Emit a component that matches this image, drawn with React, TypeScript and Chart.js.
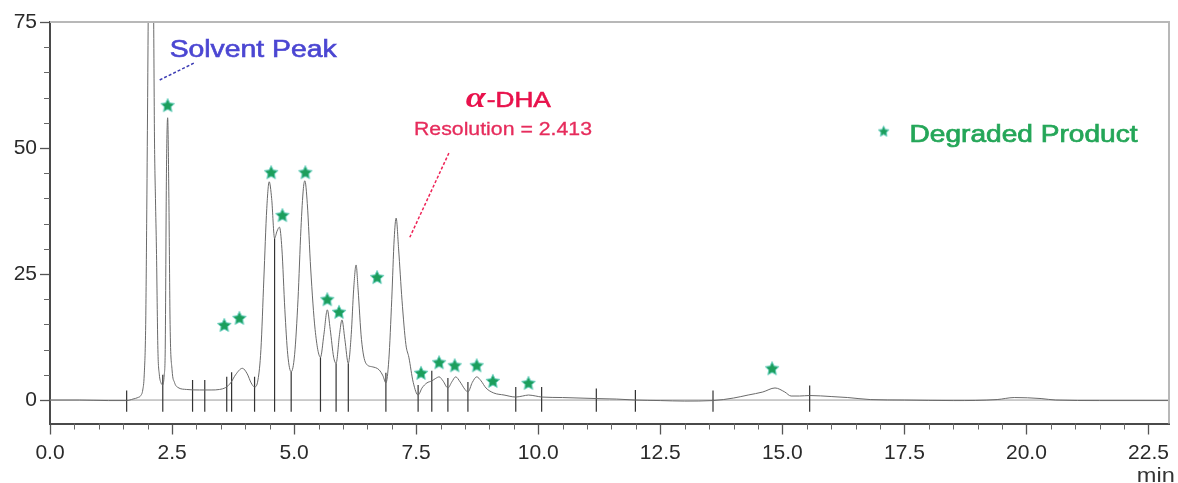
import React, { useEffect, useRef } from 'react';
import { Chart, registerables } from 'chart.js';

Chart.register(...registerables);

// ---- data ----
const curveTimes = [
  0, 0.6, 1.2, 1.57, 1.7, 1.8, 1.86, 1.9, 1.93, 1.96, 1.98, 2.0, 2.03, 2.06, 2.09, 2.12, 2.14, 2.16, 2.18,
  2.21, 2.24, 2.27, 2.31, 2.34, 2.36, 2.385, 2.41, 2.435, 2.46, 2.5, 2.55, 2.62, 2.8, 3.06, 3.3, 3.47,
  3.6, 3.7, 3.8, 3.94, 4.04, 4.12, 4.19, 4.26, 4.32, 4.38, 4.44, 4.49, 4.54, 4.6, 4.65, 4.7, 4.75, 4.81,
  4.87, 4.94, 5.01, 5.08, 5.14, 5.19, 5.22, 5.27, 5.34, 5.43, 5.54, 5.61, 5.68, 5.74, 5.81, 5.86, 5.93,
  5.98, 6.04, 6.11, 6.17, 6.22, 6.27, 6.31, 6.38, 6.47, 6.6, 6.74, 6.82, 6.88, 6.94, 7.0, 7.05, 7.09,
  7.14, 7.21, 7.29, 7.35, 7.44, 7.54, 7.62, 7.72, 7.82, 7.9, 7.97, 8.05, 8.15, 8.23, 8.31, 8.4, 8.5,
  8.56, 8.65, 8.74, 8.83, 8.93, 9.09, 9.3, 9.54, 9.68, 9.8, 9.95, 10.07, 10.5, 11.19, 11.6, 11.99, 12.5,
  13.0, 13.58, 14.0, 14.3, 14.6, 14.85, 15.05, 15.18, 15.35, 15.56, 16.0, 16.34, 16.8, 17.5, 18.5, 19.4,
  19.75, 20.3, 20.6, 21.5, 22.92,
];
const curveValues = [
  0.0, 0.0, -0.1, -0.1, 0.2, 0.5, 0.9, 2.0, 5, 15, 35, 60, 100, 118, 102, 80, 52, 40, 30,
  10, 5, 3.5, 3.0, 5, 10, 45, 56, 40, 15, 6, 3.5, 2.5, 2.1, 2.0, 2.0, 2.1,
  2.5, 3.4, 5.0, 6.3, 5.2, 3.4, 2.6, 4.0, 10, 24, 38, 43.3, 40, 32.1, 33.5, 34.3, 30, 18,
  9, 5.6, 9, 20, 34, 42, 43.5, 39, 26, 14, 8.5, 13, 17.9, 14, 8.5, 7.3, 13,
  15.9, 12, 7.3, 13, 22, 26.8, 22, 12, 7.3, 6.6, 6.0, 4.8, 3.4, 8, 20, 32, 36.1,
  30, 19.8, 11, 8.5, 3.5, 1.0, 2.4, 3.4, 3.8, 4.3, 4.6, 3.8, 2.4, 3.6, 4.6, 3.6, 2.1,
  1.6, 3.5, 4.6, 3.8, 2.4, 1.4, 1.0, 0.6, 0.8, 1.0, 0.8, 0.6, 0.5, 0.3, 0.2, 0.0, -0.1,
  -0.2, -0.1, 0.4, 1.0, 1.6, 2.4, 1.6, 0.8, 0.8, 0.9, 0.7, 0.5, 0.1, 0.0, -0.1, 0.1,
  0.5, 0.3, 0.0, -0.1, -0.1,
];

const starTimes = [2.41, 3.57, 3.88, 4.53, 4.76, 5.23, 5.68, 5.92, 6.7, 7.6, 7.97, 8.29, 8.74, 9.07, 9.8, 14.79];
const starValues = [58.5, 14.9, 16.3, 45.2, 36.7, 45.2, 20.0, 17.5, 24.4, 5.4, 7.5, 6.9, 6.9, 3.8, 3.4, 6.3];

const dropTimes = [1.57, 2.31, 2.92, 3.17, 3.62, 3.72, 4.19, 4.6, 4.94, 5.54, 5.86, 6.11, 6.88, 7.54, 7.82, 8.15, 8.56, 9.54, 10.07, 11.19, 11.99, 13.58, 15.56];
const dropValues = [-0.1, 3.0, 2.0, 2.0, 2.6, 3.5, 2.6, 32.1, 5.6, 8.5, 7.3, 7.3, 3.4, 1.0, 3.8, 2.4, 1.6, 0.6, 0.6, 0.3, 0.0, -0.1, 0.9];

const X_MIN = 0;
const X_MAX = 22.92;
const Y_MIN = -4.65;
const Y_MAX = 75;
const X_STEP = 2.5;
const Y_STEP = 25;

const FONT = '"Liberation Sans", Arial, sans-serif';

function makeStar(size: number) {
  const c = document.createElement('canvas');
  c.width = size;
  c.height = size;
  const g = c.getContext('2d')!;
  const cx = size / 2, cy = size / 2 + 0.6, R = size / 2 - 0.8, r = R * 0.48;
  g.beginPath();
  for (let i = 0; i < 10; i++) {
    const ang = -Math.PI / 2 + (i * Math.PI) / 5;
    const rad = i % 2 === 0 ? R : r;
    g.lineTo(cx + rad * Math.cos(ang), cy + rad * Math.sin(ang));
  }
  g.closePath();
  g.fillStyle = '#1c9e5c';
  g.fill();
  g.strokeStyle = 'rgba(100,205,190,0.95)';
  g.lineWidth = 1;
  g.stroke();
  return c;
}

function stretchText(ctx: CanvasRenderingContext2D, text: string, x: number, y: number, font: string, color: string, width: number, stroke = 0) {
  ctx.save();
  ctx.font = font;
  ctx.fillStyle = color;
  ctx.strokeStyle = color;
  ctx.textAlign = 'left';
  ctx.textBaseline = 'alphabetic';
  const w = ctx.measureText(text).width;
  ctx.translate(x, y);
  ctx.scale(width / w, 1);
  ctx.fillText(text, 0, 0);
  if (stroke > 0) {
    ctx.lineWidth = stroke;
    ctx.strokeText(text, 0, 0);
  }
  ctx.restore();
}

export default function App() {
  const ref = useRef<HTMLCanvasElement | null>(null);

  useEffect(() => {
    document.body.style.margin = '0';
    const canvas = ref.current!;
    const star = makeStar(16);
    const legendStar = makeStar(13);

    const curve = curveTimes.map((t, i) => ({ x: t, y: curveValues[i] }));
    const stars = starTimes.map((t, i) => ({ x: t, y: starValues[i] }));
    const drops: { x: number; y: number | null }[] = [];
    dropTimes.forEach((t, i) => {
      const v = dropValues[i];
      drops.push({ x: t, y: v < 4 ? v + 2.0 : v });
      drops.push({ x: t, y: -2.3 });
      drops.push({ x: t, y: null });
    });
    const baseline = [{ x: X_MIN, y: 0 }, { x: X_MAX, y: 0 }];

    const decor = {
      id: 'decor',
      afterDraw(chart: any) {
        const { ctx, chartArea: a, scales } = chart;
        const xs = scales.x, ys = scales.y;
        const px = (t: number) => xs.getPixelForValue(t);
        const py = (v: number) => ys.getPixelForValue(v);
        ctx.save();
        // top and right frame
        ctx.strokeStyle = '#b8b8b8';
        ctx.lineWidth = 2;
        ctx.beginPath();
        ctx.moveTo(a.left, a.top);
        ctx.lineTo(a.right, a.top);
        ctx.lineTo(a.right, a.bottom);
        ctx.stroke();
        // minor ticks
        ctx.strokeStyle = '#666';
        ctx.lineWidth = 1;
        ctx.beginPath();
        for (let k = 1; k * 0.5 < X_MAX; k++) {
          if (k % 5 === 0) continue;
          const X = Math.round(px(k * 0.5)) + 0.5;
          ctx.moveTo(X, a.bottom);
          ctx.lineTo(X, a.bottom + 6);
        }
        for (let k = 1; k * 5 < Y_MAX; k++) {
          if (k % 5 === 0) continue;
          const Y = Math.round(py(k * 5)) + 0.5;
          ctx.moveTo(a.left - 6, Y);
          ctx.lineTo(a.left, Y);
        }
        ctx.stroke();

        // annotations
        ctx.lineWidth = 1.5;
        ctx.setLineDash([3, 2]);
        ctx.strokeStyle = '#3c3cb4';
        ctx.beginPath();
        ctx.moveTo(px(2.247), py(63.5));
        ctx.lineTo(px(2.96), py(66.9));
        ctx.stroke();
        ctx.strokeStyle = '#ee2457';
        ctx.beginPath();
        ctx.moveTo(px(8.17), py(49.0));
        ctx.lineTo(px(7.37), py(32.3));
        ctx.stroke();
        ctx.setLineDash([]);

        stretchText(ctx, 'Solvent Peak', px(2.451), py(68.06), `23px ${FONT}`, '#4b46d2', 167, 0.6);
        stretchText(ctx, 'α', px(8.517), py(58.13), 'bold italic 30px "Liberation Serif", "Times New Roman", serif', '#e8124c', 20);
        stretchText(ctx, '-DHA', px(8.946), py(58.13), `22px ${FONT}`, '#e8124c', 64, 0.6);
        stretchText(ctx, 'Resolution = 2.413', px(7.455), py(52.58), `18px ${FONT}`, '#e62c5c', 178, 0.3);

        const sx = px(17.075), sy = py(53.37);
        ctx.drawImage(legendStar, sx - 6.5, sy - 6.5);
        stretchText(ctx, 'Degraded Product', px(17.606), py(51.19), `23.5px ${FONT}`, '#24a658', 228, 0.7);

        stretchText(ctx, 'min', px(22.26), chart.height - 1, `20px ${FONT}`, '#333', 38);
        ctx.restore();
      },
    };

    const chart = new Chart(canvas, {
      type: 'line',
      data: {
        datasets: [
          {
            label: 'stars',
            data: stars,
            showLine: false,
            pointStyle: star as any,
            pointRadius: 8,
            order: 0,
          },
          {
            label: 'signal',
            data: curve,
            borderColor: '#6a6a6a',
            borderWidth: 1,
            pointRadius: 0,
            cubicInterpolationMode: 'monotone',
            fill: false,
            order: 1,
          },
          {
            label: 'drops',
            data: drops as any,
            borderColor: '#333',
            borderWidth: 1.2,
            pointRadius: 0,
            spanGaps: false,
            fill: false,
            order: 2,
          },
          {
            label: 'baseline',
            data: baseline,
            borderColor: '#9a9a9a',
            borderWidth: 1,
            pointRadius: 0,
            fill: false,
            order: 3,
          },
        ],
      },
      options: {
        responsive: false,
        animation: false,
        events: [],
        layout: { padding: { top: 22, right: 6, left: 0, bottom: 0 } },
        plugins: { legend: { display: false }, tooltip: { enabled: false } },
        scales: {
          x: {
            type: 'linear',
            position: 'bottom',
            min: X_MIN,
            max: X_MAX,
            afterFit: (s: any) => { s.height = 59.5; },
            ticks: {
              stepSize: X_STEP,
              includeBounds: false,
              maxRotation: 0,
              autoSkip: false,
              padding: 6,
              color: '#2a2a2a',
              font: { family: FONT, size: 21 },
              callback: (v: any) => Number(v).toFixed(1),
            },
            grid: { drawOnChartArea: false, drawTicks: true, tickLength: 11, color: '#555', tickWidth: 1.3 },
            border: { display: true, color: '#4a4a4a', width: 2 },
          },
          y: {
            type: 'linear',
            min: Y_MIN,
            max: Y_MAX,
            afterFit: (s: any) => { s.width = 50; },
            ticks: {
              stepSize: Y_STEP,
              includeBounds: false,
              padding: 3,
              color: '#2a2a2a',
              font: { family: FONT, size: 21 },
              callback: (v: any) => String(v),
            },
            grid: { drawOnChartArea: false, drawTicks: true, tickLength: 10, color: '#555', tickWidth: 1.3 },
            border: { display: true, color: '#4a4a4a', width: 2 },
          },
        },
      },
      plugins: [decor],
    });
    return () => chart.destroy();
  }, []);

  return (
    <div style={{ width: 1178, height: 483 }}>
      <canvas ref={ref} width={1178} height={483} />
    </div>
  );
}
